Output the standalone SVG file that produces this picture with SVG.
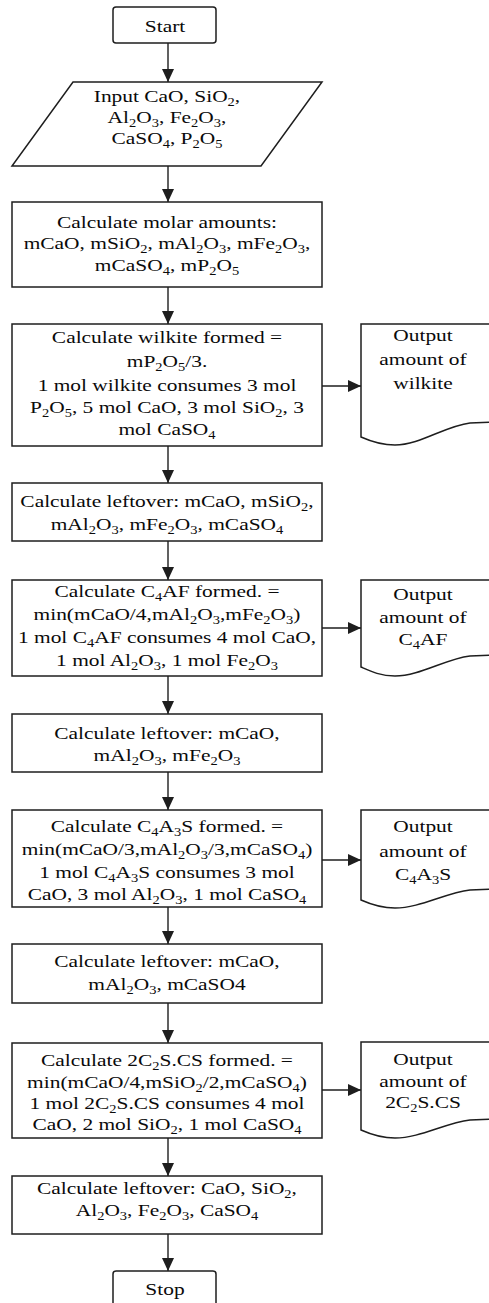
<svg xmlns="http://www.w3.org/2000/svg" width="489" height="1303" viewBox="0 0 489 1303">
<style>
.b{fill:#fff;stroke:#1e1e1e;stroke-width:1.5}
.t{font-family:"Liberation Serif","Times New Roman",serif;font-size:17px;fill:#0a0a0a;text-anchor:middle}
.s{font-size:11.5px}
.c{fill:none;stroke:#1e1e1e;stroke-width:1.4}
</style>
<defs>
<marker id="ah" markerUnits="userSpaceOnUse" markerWidth="13" markerHeight="12" viewBox="0 0 13 12" refX="13" refY="6" orient="auto"><path d="M0,0 L13,6 L0,12 z" fill="#1e1e1e"/></marker>
</defs>
<rect width="489" height="1303" fill="#fff"/>

<g id="connectors">
<line class="c" x1="168" y1="43" x2="168" y2="82" marker-end="url(#ah)"/>
<line class="c" x1="168" y1="166" x2="168" y2="202" marker-end="url(#ah)"/>
<line class="c" x1="168" y1="287" x2="168" y2="324" marker-end="url(#ah)"/>
<line class="c" x1="168" y1="446" x2="168" y2="483" marker-end="url(#ah)"/>
<line class="c" x1="168" y1="541" x2="168" y2="580" marker-end="url(#ah)"/>
<line class="c" x1="168" y1="676" x2="168" y2="714" marker-end="url(#ah)"/>
<line class="c" x1="168" y1="772" x2="168" y2="810" marker-end="url(#ah)"/>
<line class="c" x1="168" y1="907" x2="168" y2="944" marker-end="url(#ah)"/>
<line class="c" x1="168" y1="1003" x2="168" y2="1043" marker-end="url(#ah)"/>
<line class="c" x1="168" y1="1138" x2="168" y2="1176" marker-end="url(#ah)"/>
<line class="c" x1="168" y1="1234" x2="168" y2="1271" marker-end="url(#ah)"/>
<line class="c" x1="322" y1="386" x2="361" y2="386" marker-end="url(#ah)"/>
<line class="c" x1="322" y1="628" x2="361" y2="628" marker-end="url(#ah)"/>
<line class="c" x1="322" y1="860" x2="361" y2="860" marker-end="url(#ah)"/>
<line class="c" x1="322" y1="1090" x2="361" y2="1090" marker-end="url(#ah)"/>
</g>

<g id="start">
<rect class="b" x="113" y="7" width="103" height="36" rx="3"/>
<text class="t" transform="translate(165 0) scale(1.26 1)" x="0" y="32">Start</text>
</g>

<g id="input">
<polygon class="b" points="73,82 322,82 261,166 12,166"/>
<text class="t" transform="translate(167 0) scale(1.26 1)" x="0" y="102">Input CaO, SiO<tspan class="s" dy="4">2</tspan><tspan dy="-4">,</tspan></text>
<text class="t" transform="translate(167 0) scale(1.26 1)" x="0" y="123">Al<tspan class="s" dy="4">2</tspan><tspan dy="-4">O</tspan><tspan class="s" dy="4">3</tspan><tspan dy="-4">, Fe</tspan><tspan class="s" dy="4">2</tspan><tspan dy="-4">O</tspan><tspan class="s" dy="4">3</tspan><tspan dy="-4">,</tspan></text>
<text class="t" transform="translate(167 0) scale(1.26 1)" x="0" y="144">CaSO<tspan class="s" dy="4">4</tspan><tspan dy="-4">, P</tspan><tspan class="s" dy="4">2</tspan><tspan dy="-4">O</tspan><tspan class="s" dy="4">5</tspan></text>
</g>

<g id="molar">
<rect class="b" x="12" y="202" width="310" height="85"/>
<text class="t" transform="translate(167 0) scale(1.26 1)" x="0" y="228">Calculate molar amounts:</text>
<text class="t" transform="translate(167 0) scale(1.26 1)" x="0" y="249">mCaO, mSiO<tspan class="s" dy="4">2</tspan><tspan dy="-4">, mAl</tspan><tspan class="s" dy="4">2</tspan><tspan dy="-4">O</tspan><tspan class="s" dy="4">3</tspan><tspan dy="-4">, mFe</tspan><tspan class="s" dy="4">2</tspan><tspan dy="-4">O</tspan><tspan class="s" dy="4">3</tspan><tspan dy="-4">,</tspan></text>
<text class="t" transform="translate(167 0) scale(1.26 1)" x="0" y="271">mCaSO<tspan class="s" dy="4">4</tspan><tspan dy="-4">, mP</tspan><tspan class="s" dy="4">2</tspan><tspan dy="-4">O</tspan><tspan class="s" dy="4">5</tspan></text>
</g>

<g id="wilkite">
<rect class="b" x="12" y="324" width="310" height="122"/>
<text class="t" transform="translate(167 0) scale(1.26 1)" x="0" y="343">Calculate wilkite formed =</text>
<text class="t" transform="translate(167 0) scale(1.26 1)" x="0" y="367">mP<tspan class="s" dy="4">2</tspan><tspan dy="-4">O</tspan><tspan class="s" dy="4">5</tspan><tspan dy="-4">/3.</tspan></text>
<text class="t" transform="translate(167 0) scale(1.26 1)" x="0" y="391">1 mol wilkite consumes 3 mol</text>
<text class="t" transform="translate(167 0) scale(1.26 1)" x="0" y="413">P<tspan class="s" dy="4">2</tspan><tspan dy="-4">O</tspan><tspan class="s" dy="4">5</tspan><tspan dy="-4">, 5 mol CaO, 3 mol SiO</tspan><tspan class="s" dy="4">2</tspan><tspan dy="-4">, 3</tspan></text>
<text class="t" transform="translate(167 0) scale(1.26 1)" x="0" y="435">mol CaSO<tspan class="s" dy="4">4</tspan></text>
</g>

<g id="out-wilkite">
<path class="b" d="M361,437 V324 H492 V422 L470,423 C445,426 420,445 395,445 C380,445 370,441 361,437 Z"/>
<text class="t" transform="translate(423 0) scale(1.26 1)" x="0" y="341">Output</text>
<text class="t" transform="translate(423 0) scale(1.26 1)" x="0" y="365">amount of</text>
<text class="t" transform="translate(423 0) scale(1.26 1)" x="0" y="389">wilkite</text>
</g>

<g id="leftover1">
<rect class="b" x="12" y="483" width="310" height="58"/>
<text class="t" transform="translate(167 0) scale(1.26 1)" x="0" y="507">Calculate leftover: mCaO, mSiO<tspan class="s" dy="4">2</tspan><tspan dy="-4">,</tspan></text>
<text class="t" transform="translate(167 0) scale(1.26 1)" x="0" y="530">mAl<tspan class="s" dy="4">2</tspan><tspan dy="-4">O</tspan><tspan class="s" dy="4">3</tspan><tspan dy="-4">, mFe</tspan><tspan class="s" dy="4">2</tspan><tspan dy="-4">O</tspan><tspan class="s" dy="4">3</tspan><tspan dy="-4">, mCaSO</tspan><tspan class="s" dy="4">4</tspan></text>
</g>

<g id="c4af">
<rect class="b" x="12" y="580" width="310" height="96"/>
<text class="t" transform="translate(167 0) scale(1.26 1)" x="0" y="597">Calculate C<tspan class="s" dy="4">4</tspan><tspan dy="-4">AF formed. =</tspan></text>
<text class="t" transform="translate(167 0) scale(1.26 1)" x="0" y="620">min(mCaO/4,mAl<tspan class="s" dy="4">2</tspan><tspan dy="-4">O</tspan><tspan class="s" dy="4">3</tspan><tspan dy="-4">,mFe</tspan><tspan class="s" dy="4">2</tspan><tspan dy="-4">O</tspan><tspan class="s" dy="4">3</tspan><tspan dy="-4">)</tspan></text>
<text class="t" transform="translate(167 0) scale(1.26 1)" x="0" y="643">1 mol C<tspan class="s" dy="4">4</tspan><tspan dy="-4">AF consumes 4 mol CaO,</tspan></text>
<text class="t" transform="translate(167 0) scale(1.26 1)" x="0" y="666">1 mol Al<tspan class="s" dy="4">2</tspan><tspan dy="-4">O</tspan><tspan class="s" dy="4">3</tspan><tspan dy="-4">, 1 mol Fe</tspan><tspan class="s" dy="4">2</tspan><tspan dy="-4">O</tspan><tspan class="s" dy="4">3</tspan></text>
</g>

<g id="out-c4af">
<path class="b" d="M361,667 V580 H492 V655 L470,656 C445,659 420,676 395,676 C380,676 370,671 361,667 Z"/>
<text class="t" transform="translate(423 0) scale(1.26 1)" x="0" y="600">Output</text>
<text class="t" transform="translate(423 0) scale(1.26 1)" x="0" y="623">amount of</text>
<text class="t" transform="translate(423 0) scale(1.26 1)" x="0" y="645">C<tspan class="s" dy="4">4</tspan><tspan dy="-4">AF</tspan></text>
</g>

<g id="leftover2">
<rect class="b" x="12" y="714" width="310" height="58"/>
<text class="t" transform="translate(167 0) scale(1.26 1)" x="0" y="739">Calculate leftover: mCaO,</text>
<text class="t" transform="translate(167 0) scale(1.26 1)" x="0" y="761">mAl<tspan class="s" dy="4">2</tspan><tspan dy="-4">O</tspan><tspan class="s" dy="4">3</tspan><tspan dy="-4">, mFe</tspan><tspan class="s" dy="4">2</tspan><tspan dy="-4">O</tspan><tspan class="s" dy="4">3</tspan></text>
</g>

<g id="c4a3s">
<rect class="b" x="12" y="810" width="310" height="97"/>
<text class="t" transform="translate(167 0) scale(1.26 1)" x="0" y="832">Calculate C<tspan class="s" dy="4">4</tspan><tspan dy="-4">A</tspan><tspan class="s" dy="4">3</tspan><tspan dy="-4">S formed. =</tspan></text>
<text class="t" transform="translate(167 0) scale(1.26 1)" x="0" y="855">min(mCaO/3,mAl<tspan class="s" dy="4">2</tspan><tspan dy="-4">O</tspan><tspan class="s" dy="4">3</tspan><tspan dy="-4">/3,mCaSO</tspan><tspan class="s" dy="4">4</tspan><tspan dy="-4">)</tspan></text>
<text class="t" transform="translate(167 0) scale(1.26 1)" x="0" y="878">1 mol C<tspan class="s" dy="4">4</tspan><tspan dy="-4">A</tspan><tspan class="s" dy="4">3</tspan><tspan dy="-4">S consumes 3 mol</tspan></text>
<text class="t" transform="translate(167 0) scale(1.26 1)" x="0" y="900">CaO, 3 mol Al<tspan class="s" dy="4">2</tspan><tspan dy="-4">O</tspan><tspan class="s" dy="4">3</tspan><tspan dy="-4">, 1 mol CaSO</tspan><tspan class="s" dy="4">4</tspan></text>
</g>

<g id="out-c4a3s">
<path class="b" d="M361,900 V810 H492 V889 L470,890 C445,893 420,908 395,908 C380,908 370,904 361,900 Z"/>
<text class="t" transform="translate(423 0) scale(1.26 1)" x="0" y="832">Output</text>
<text class="t" transform="translate(423 0) scale(1.26 1)" x="0" y="857">amount of</text>
<text class="t" transform="translate(423 0) scale(1.26 1)" x="0" y="880">C<tspan class="s" dy="4">4</tspan><tspan dy="-4">A</tspan><tspan class="s" dy="4">3</tspan><tspan dy="-4">S</tspan></text>
</g>

<g id="leftover3">
<rect class="b" x="12" y="944" width="310" height="59"/>
<text class="t" transform="translate(167 0) scale(1.26 1)" x="0" y="967">Calculate leftover: mCaO,</text>
<text class="t" transform="translate(167 0) scale(1.26 1)" x="0" y="990">mAl<tspan class="s" dy="4">2</tspan><tspan dy="-4">O</tspan><tspan class="s" dy="4">3</tspan><tspan dy="-4">, mCaSO4</tspan></text>
</g>

<g id="c2scs">
<rect class="b" x="12" y="1043" width="310" height="95"/>
<text class="t" transform="translate(167 0) scale(1.26 1)" x="0" y="1066">Calculate 2C<tspan class="s" dy="4">2</tspan><tspan dy="-4">S.CS formed. =</tspan></text>
<text class="t" transform="translate(167 0) scale(1.26 1)" x="0" y="1088">min(mCaO/4,mSiO<tspan class="s" dy="4">2</tspan><tspan dy="-4">/2,mCaSO</tspan><tspan class="s" dy="4">4</tspan><tspan dy="-4">)</tspan></text>
<text class="t" transform="translate(167 0) scale(1.26 1)" x="0" y="1109">1 mol 2C<tspan class="s" dy="4">2</tspan><tspan dy="-4">S.CS consumes 4 mol</tspan></text>
<text class="t" transform="translate(167 0) scale(1.26 1)" x="0" y="1130">CaO, 2 mol SiO<tspan class="s" dy="4">2</tspan><tspan dy="-4">, 1 mol CaSO</tspan><tspan class="s" dy="4">4</tspan></text>
</g>

<g id="out-c2scs">
<path class="b" d="M361,1130 V1042 H492 V1119 L470,1120 C445,1123 420,1138 395,1138 C380,1138 370,1134 361,1130 Z"/>
<text class="t" transform="translate(423 0) scale(1.26 1)" x="0" y="1065">Output</text>
<text class="t" transform="translate(423 0) scale(1.26 1)" x="0" y="1087">amount of</text>
<text class="t" transform="translate(423 0) scale(1.26 1)" x="0" y="1108">2C<tspan class="s" dy="4">2</tspan><tspan dy="-4">S.CS</tspan></text>
</g>

<g id="leftover4">
<rect class="b" x="12" y="1176" width="310" height="58"/>
<text class="t" transform="translate(167 0) scale(1.26 1)" x="0" y="1194">Calculate leftover: CaO, SiO<tspan class="s" dy="4">2</tspan><tspan dy="-4">,</tspan></text>
<text class="t" transform="translate(167 0) scale(1.26 1)" x="0" y="1216">Al<tspan class="s" dy="4">2</tspan><tspan dy="-4">O</tspan><tspan class="s" dy="4">3</tspan><tspan dy="-4">, Fe</tspan><tspan class="s" dy="4">2</tspan><tspan dy="-4">O</tspan><tspan class="s" dy="4">3</tspan><tspan dy="-4">, CaSO</tspan><tspan class="s" dy="4">4</tspan></text>
</g>

<g id="stop">
<rect class="b" x="113" y="1271" width="103" height="40" rx="3"/>
<text class="t" transform="translate(165 0) scale(1.26 1)" x="0" y="1295">Stop</text>
</g>
</svg>
